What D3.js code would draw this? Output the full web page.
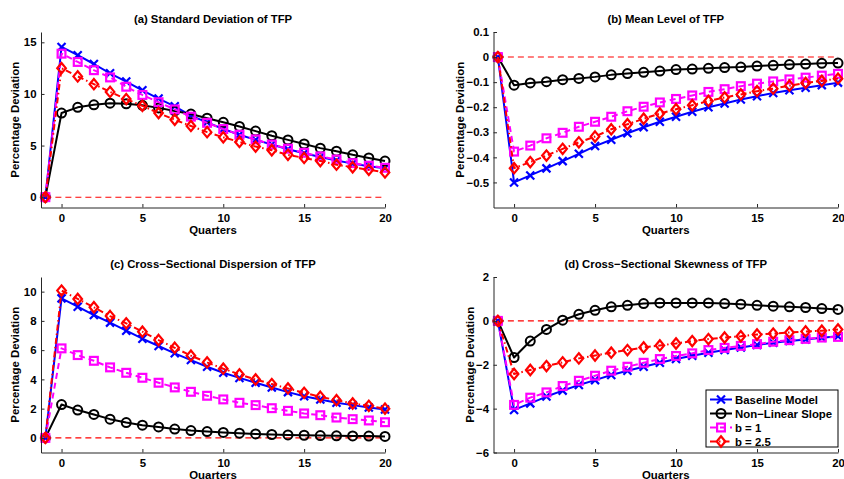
<!DOCTYPE html>
<html>
<head>
<meta charset="utf-8">
<script src="https://cdn.jsdelivr.net/npm/d3@7"></script>
<style>
  html, body { margin: 0; padding: 0; background: #fff; }
  svg { display: block; }
  text { font-family: "Liberation Sans", Arial, Helvetica, sans-serif; font-weight: bold; fill: #000; }
</style>
</head>
<body>
<svg id="chart" width="844" height="479"></svg>
<script>
// Quarters after the shock (-1 is the pre-shock quarter)
const quarters = [-1, 0, 1, 2, 3, 4, 5, 6, 7, 8, 9, 10, 11, 12, 13, 14, 15, 16, 17, 18, 19, 20];
const seriesNames = ["Baseline Model", "Non\u2212Linear Slope", "b = 1", "b = 2.5"];

// (a) Standard deviation of TFP
const sdBaseline  = [0, 14.55, 13.75, 12.9, 12.0, 11.2, 10.35, 9.55, 8.8, 7.9, 7.25, 6.6, 6.05, 5.55, 5.1, 4.65, 4.25, 3.9, 3.55, 3.25, 3.0, 2.8];
const sdNonLinear = [0, 8.15, 8.7, 8.95, 9.1, 9.05, 8.9, 8.65, 8.35, 8.05, 7.65, 7.25, 6.85, 6.4, 5.95, 5.55, 5.15, 4.75, 4.45, 4.1, 3.8, 3.5];
const sdB1        = [0, 13.9, 13.1, 12.3, 11.6, 10.7, 9.9, 9.2, 8.5, 7.8, 7.2, 6.6, 6.05, 5.6, 5.1, 4.7, 4.3, 3.95, 3.65, 3.3, 3.05, 2.85];
const sdB25       = [0, 12.5, 11.7, 10.95, 10.2, 9.5, 8.85, 8.15, 7.5, 6.9, 6.3, 5.8, 5.35, 4.9, 4.55, 4.1, 3.8, 3.5, 3.15, 2.9, 2.65, 2.4];

// (b) Mean level of TFP
const meanBaseline  = [0, -0.5, -0.472, -0.444, -0.415, -0.386, -0.355, -0.33, -0.304, -0.28, -0.258, -0.238, -0.218, -0.2, -0.185, -0.169, -0.156, -0.143, -0.132, -0.122, -0.112, -0.102];
const meanNonLinear = [0, -0.112, -0.103, -0.098, -0.09, -0.085, -0.079, -0.071, -0.066, -0.061, -0.056, -0.05, -0.048, -0.045, -0.042, -0.04, -0.036, -0.033, -0.03, -0.028, -0.025, -0.024];
const meanB1        = [0, -0.377, -0.353, -0.324, -0.302, -0.278, -0.258, -0.238, -0.216, -0.198, -0.181, -0.167, -0.153, -0.139, -0.128, -0.116, -0.106, -0.097, -0.089, -0.082, -0.074, -0.067];
const meanB25       = [0, -0.443, -0.419, -0.393, -0.366, -0.34, -0.317, -0.288, -0.268, -0.246, -0.225, -0.208, -0.192, -0.175, -0.161, -0.149, -0.136, -0.126, -0.114, -0.103, -0.095, -0.086];

// (c) Cross-sectional dispersion of TFP
const dispBaseline  = [0, 9.54, 8.97, 8.4, 7.88, 7.33, 6.78, 6.28, 5.78, 5.32, 4.86, 4.45, 4.1, 3.77, 3.45, 3.13, 2.85, 2.63, 2.4, 2.24, 2.08, 1.94];
const dispNonLinear = [0, 2.28, 1.9, 1.6, 1.28, 1.05, 0.87, 0.75, 0.6, 0.5, 0.43, 0.37, 0.32, 0.27, 0.23, 0.2, 0.18, 0.16, 0.14, 0.13, 0.12, 0.1];
const dispB1        = [0, 6.12, 5.66, 5.27, 4.82, 4.45, 4.11, 3.77, 3.45, 3.15, 2.88, 2.63, 2.4, 2.24, 2.03, 1.85, 1.67, 1.55, 1.39, 1.28, 1.19, 1.07];
const dispB25       = [0, 10.07, 9.5, 8.93, 8.33, 7.83, 7.26, 6.69, 6.16, 5.62, 5.16, 4.73, 4.34, 3.99, 3.68, 3.38, 3.08, 2.81, 2.58, 2.35, 2.19, 2.0];

// (d) Cross-sectional skewness of TFP
const skewBaseline  = [0, -4.06, -3.76, -3.45, -3.18, -2.92, -2.7, -2.47, -2.27, -2.09, -1.91, -1.74, -1.59, -1.45, -1.33, -1.21, -1.1, -1.0, -0.92, -0.85, -0.77, -0.7];
const skewNonLinear = [0, -1.67, -0.92, -0.39, 0.03, 0.3, 0.48, 0.64, 0.71, 0.79, 0.82, 0.82, 0.82, 0.82, 0.79, 0.76, 0.71, 0.67, 0.64, 0.61, 0.56, 0.52];
const skewB1        = [0, -3.83, -3.5, -3.26, -2.97, -2.73, -2.5, -2.27, -2.09, -1.91, -1.74, -1.6, -1.48, -1.33, -1.23, -1.14, -1.06, -0.95, -0.88, -0.82, -0.76, -0.73];
const skewB25       = [0, -2.42, -2.24, -2.06, -1.89, -1.71, -1.58, -1.45, -1.33, -1.21, -1.12, -1.03, -0.92, -0.83, -0.76, -0.7, -0.62, -0.58, -0.53, -0.48, -0.45, -0.39];

// Tick values
const xTicks = [0, 5, 10, 15, 20];
const yTicksA = [0, 5, 10, 15];
const yTicksB = [-0.5, -0.4, -0.3, -0.2, -0.1, 0, 0.1];
const yTicksC = [0, 2, 4, 6, 8, 10];
const yTicksD = [-6, -4, -2, 0, 2];

const titles = [
  "(a) Standard Deviation of TFP",
  "(b) Mean Level of TFP",
  "(c) Cross\u2212Sectional Dispersion of TFP",
  "(d) Cross\u2212Sectional Skewness of TFP"
];

// Line and marker styles per series
const styles = [
  { color: "#0000ff", dash: null,        marker: "x" },
  { color: "#000000", dash: null,        marker: "o" },
  { color: "#ff00ff", dash: "6,4",       marker: "s" },
  { color: "#ff0000", dash: "6,3,1.5,3", marker: "d" }
];

const panels = [
  { title: titles[0], series: [sdBaseline, sdNonLinear, sdB1, sdB25],         yDomain: [-1, 16],    yTicks: yTicksA, fmt: d3.format("d"), box: { l: 41,    r: 385, t: 32,  b: 207.5 } },
  { title: titles[1], series: [meanBaseline, meanNonLinear, meanB1, meanB25], yDomain: [-0.6, 0.1], yTicks: yTicksB, fmt: d => d === 0 ? "0" : d3.format(".1f")(d), box: { l: 493.5, r: 838, t: 32, b: 207.5 } },
  { title: titles[2], series: [dispBaseline, dispNonLinear, dispB1, dispB25], yDomain: [-1, 11],    yTicks: yTicksC, fmt: d3.format("d"), box: { l: 41,    r: 385, t: 277, b: 452.5 } },
  { title: titles[3], series: [skewBaseline, skewNonLinear, skewB1, skewB25], yDomain: [-6, 2],     yTicks: yTicksD, fmt: d3.format("d"), box: { l: 493.5, r: 838, t: 277, b: 452.5 }, legend: true }
];

const svg = d3.select("#chart");
const FONT = 11.4;

function drawMarker(g, type, color) {
  if (type === "x") {
    g.append("path").attr("d", "M-4,-4L4,4M-4,4L4,-4")
      .attr("stroke", color).attr("stroke-width", 2.2).attr("fill", "none");
  } else if (type === "o") {
    g.append("circle").attr("r", 4.5)
      .attr("stroke", color).attr("stroke-width", 2).attr("fill", "none");
  } else if (type === "s") {
    g.append("rect").attr("x", -3.9).attr("y", -3.9).attr("width", 7.8).attr("height", 7.8)
      .attr("stroke", color).attr("stroke-width", 2.2).attr("fill", "none");
  } else if (type === "d") {
    g.append("path").attr("d", "M0,-5.2L4.3,0L0,5.2L-4.3,0Z")
      .attr("stroke", color).attr("stroke-width", 2.2).attr("fill", "none");
  }
}

panels.forEach(p => {
  const x = d3.scaleLinear().domain([-1.27, 20]).range([p.box.l, p.box.r]);
  const y = d3.scaleLinear().domain(p.yDomain).range([p.box.b, p.box.t]);
  const g = svg.append("g");

  // Zero reference line
  g.append("line")
    .attr("x1", x(-1)).attr("x2", x(20))
    .attr("y1", y(0)).attr("y2", y(0))
    .attr("stroke", "#ff0000").attr("stroke-width", 1.1)
    .attr("stroke-dasharray", "6,4");

  // Series lines and markers
  const line = d3.line().x((d, i) => x(quarters[i])).y(d => y(d));
  p.series.forEach((vals, si) => {
    const st = styles[si];
    g.append("path").datum(vals)
      .attr("d", line)
      .attr("fill", "none")
      .attr("stroke", st.color)
      .attr("stroke-width", 2)
      .attr("stroke-linejoin", "round")
      .attr("stroke-dasharray", st.dash);
    vals.forEach((v, i) => {
      const mg = g.append("g").attr("transform", `translate(${x(quarters[i])},${y(v)})`);
      drawMarker(mg, st.marker, st.color);
    });
  });

  // Axes with inward ticks
  const xAxis = d3.axisBottom(x).tickValues(xTicks).tickFormat(d3.format("d"))
    .tickSizeInner(-3.5).tickSizeOuter(0).tickPadding(6);
  const yAxis = d3.axisLeft(y).tickValues(p.yTicks).tickFormat(p.fmt)
    .tickSizeInner(-3.5).tickSizeOuter(0).tickPadding(4.5);

  const gx = g.append("g").attr("transform", `translate(0,${p.box.b})`).call(xAxis);
  const gy = g.append("g").attr("transform", `translate(${p.box.l},0)`).call(yAxis);
  [gx, gy].forEach(ax => {
    ax.select(".domain").attr("stroke", "#262626").attr("stroke-width", 1);
    ax.selectAll(".tick line").attr("stroke", "#262626").attr("stroke-width", 1);
    ax.selectAll(".tick text").style("font-size", FONT + "px").attr("fill", "#000")
      .style("font-family", "'Liberation Sans', Arial, sans-serif").style("font-weight", "bold");
  });

  // Title
  g.append("text")
    .attr("x", (p.box.l + p.box.r) / 2).attr("y", p.box.t - 9)
    .attr("text-anchor", "middle").style("font-size", "11.3px")
    .text(p.title);

  // Axis labels
  g.append("text")
    .attr("x", (p.box.l + p.box.r) / 2).attr("y", p.box.b + 26)
    .attr("text-anchor", "middle").style("font-size", FONT + "px")
    .text("Quarters");

  const yLabelX = p.box.l - (p.box.l > 400 ? (p.legend ? 20 : 30) : 22);
  g.append("text")
    .attr("transform", `translate(${yLabelX},${(p.box.t + p.box.b) / 2}) rotate(-90)`)
    .attr("text-anchor", "middle").style("font-size", FONT + "px")
    .text("Percentage Deviation");

  // Legend
  if (p.legend) {
    const lg = g.append("g");
    const lx = 706, ly = 390, lw = 132, lh = 57;
    lg.append("rect").attr("x", lx).attr("y", ly).attr("width", lw).attr("height", lh)
      .attr("fill", "#fff").attr("stroke", "#000").attr("stroke-width", 1);
    seriesNames.forEach((name, i) => {
      const st = styles[i];
      const cy = ly + 9.5 + i * 14;
      lg.append("line").attr("x1", lx + 4).attr("x2", lx + 26).attr("y1", cy).attr("y2", cy)
        .attr("stroke", st.color).attr("stroke-width", 2).attr("stroke-dasharray", st.dash);
      const mg = lg.append("g").attr("transform", `translate(${lx + 15},${cy})`);
      drawMarker(mg, st.marker, st.color);
      lg.append("text").attr("x", lx + 29).attr("y", cy + 4)
        .style("font-size", FONT + "px").text(name);
    });
  }
});
</script>
</body>
</html>
